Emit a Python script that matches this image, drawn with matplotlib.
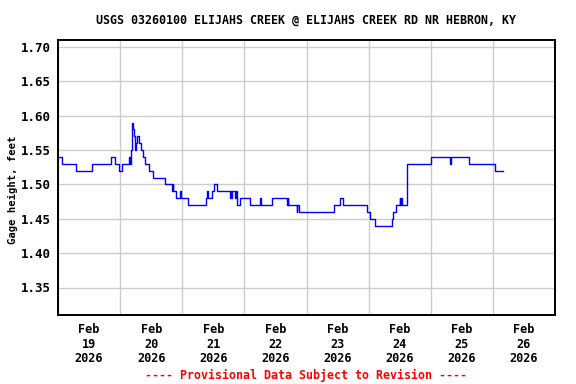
import numpy as np
import pandas as pd
import matplotlib
matplotlib.use('Agg')
import matplotlib.pyplot as plt
import matplotlib.dates as mdates

# gage height readings (value holds until next timestamp)
times = [
    "2026-02-19 00:00", "2026-02-19 01:30", "2026-02-19 07:00", "2026-02-19 13:00",
    "2026-02-19 20:30", "2026-02-19 22:00", "2026-02-19 23:30", "2026-02-20 00:45",
    "2026-02-20 03:15", "2026-02-20 03:45", "2026-02-20 04:15", "2026-02-20 04:30",
    "2026-02-20 05:00", "2026-02-20 05:15", "2026-02-20 05:45", "2026-02-20 06:00",
    "2026-02-20 06:30", "2026-02-20 07:15", "2026-02-20 08:15", "2026-02-20 09:00",
    "2026-02-20 09:45", "2026-02-20 11:15", "2026-02-20 12:45", "2026-02-20 17:15",
    "2026-02-20 20:00", "2026-02-20 20:15", "2026-02-20 20:30", "2026-02-20 21:45",
    "2026-02-20 23:00", "2026-02-20 23:30", "2026-02-21 02:15", "2026-02-21 09:00",
    "2026-02-21 09:45", "2026-02-21 10:00", "2026-02-21 11:30", "2026-02-21 12:15",
    "2026-02-21 13:30", "2026-02-21 18:30", "2026-02-21 18:45", "2026-02-21 19:00",
    "2026-02-21 19:15", "2026-02-21 20:30", "2026-02-21 20:45", "2026-02-21 21:00",
    "2026-02-21 21:15", "2026-02-21 22:15", "2026-02-22 02:00", "2026-02-22 06:00",
    "2026-02-22 06:15", "2026-02-22 10:45", "2026-02-22 16:30", "2026-02-22 16:45",
    "2026-02-22 17:00", "2026-02-22 20:15", "2026-02-22 20:30", "2026-02-22 21:00",
    "2026-02-23 10:45", "2026-02-23 13:00", "2026-02-23 14:15", "2026-02-23 23:30",
    "2026-02-24 00:30", "2026-02-24 02:30", "2026-02-24 09:00", "2026-02-24 09:30",
    "2026-02-24 10:45", "2026-02-24 12:00", "2026-02-24 12:15", "2026-02-24 12:30",
    "2026-02-24 12:45", "2026-02-24 14:45", "2026-02-24 15:00", "2026-02-25 00:15",
    "2026-02-25 07:15", "2026-02-25 07:45", "2026-02-25 14:45", "2026-02-26 00:45",
    "2026-02-26 03:45",
]
gage = [
    1.54, 1.53, 1.52, 1.53,
    1.54, 1.53, 1.52, 1.53,
    1.54, 1.53, 1.55, 1.59,
    1.58, 1.57, 1.55, 1.56,
    1.57, 1.56, 1.55, 1.54,
    1.53, 1.52, 1.51, 1.50,
    1.49, 1.50, 1.49, 1.48,
    1.49, 1.48, 1.47, 1.48,
    1.49, 1.48, 1.49, 1.50,
    1.49, 1.48, 1.49, 1.48,
    1.49, 1.48, 1.49, 1.48,
    1.47, 1.48, 1.47, 1.48,
    1.47, 1.48, 1.47, 1.48,
    1.47, 1.46, 1.47, 1.46,
    1.47, 1.48, 1.47, 1.46,
    1.45, 1.44, 1.45, 1.46,
    1.47, 1.48, 1.47, 1.48,
    1.47, 1.50, 1.53, 1.54,
    1.53, 1.54, 1.53, 1.52,
    1.52,
]
yticks = [1.35, 1.40, 1.45, 1.50, 1.55, 1.60, 1.65, 1.70]
days = pd.date_range("2026-02-19", "2026-02-27", freq="D")

t = pd.to_datetime(times)

fig = plt.figure(figsize=(5.76, 3.84), dpi=100)
ax = fig.add_axes([58/576, 1-315/384, (555-58)/576, (315-40)/384])

ax.plot(t, gage, drawstyle='steps-post', color='#0000ff', lw=1.0)

font = dict(family='DejaVu Sans Mono', weight='bold')

ax.set_xlim(days[0], days[-1])
ax.set_ylim(1.31, 1.71)
ax.set_yticks(yticks)
ax.set_yticklabels([f"{v:.2f}" for v in yticks], fontsize=9, **font)

ax.set_xticks(days)
ax.set_xticklabels([])
ax.set_xticks(days[:-1] + pd.Timedelta(hours=12), minor=True)
ax.set_xticklabels([d.strftime("%b\n%d\n%Y") for d in days[:-1]], minor=True,
                   fontsize=8.6, linespacing=1.15, **font)
ax.tick_params(axis='both', which='both', length=0)
ax.tick_params(axis='y', pad=5)
ax.tick_params(axis='x', which='minor', pad=6)

ax.grid(True, which='major', color='#cccccc', lw=1)
ax.set_axisbelow(True)
for s in ax.spines.values():
    s.set_linewidth(1.4)

ax.set_ylabel("Gage height, feet", fontsize=7.6, **font)
ax.yaxis.set_label_coords((18-58)/497, (315-190)/275)
fig.text(306/576, 1-20/384, "USGS 03260100 ELIJAHS CREEK @ ELIJAHS CREEK RD NR HEBRON, KY",
         ha='center', va='center', fontsize=8.4, **font)
fig.text(306/576, 1-375/384, "---- Provisional Data Subject to Revision ----",
         ha='center', va='center', fontsize=8.4, color='red', **font)

fig.savefig('out.png', dpi=100)
